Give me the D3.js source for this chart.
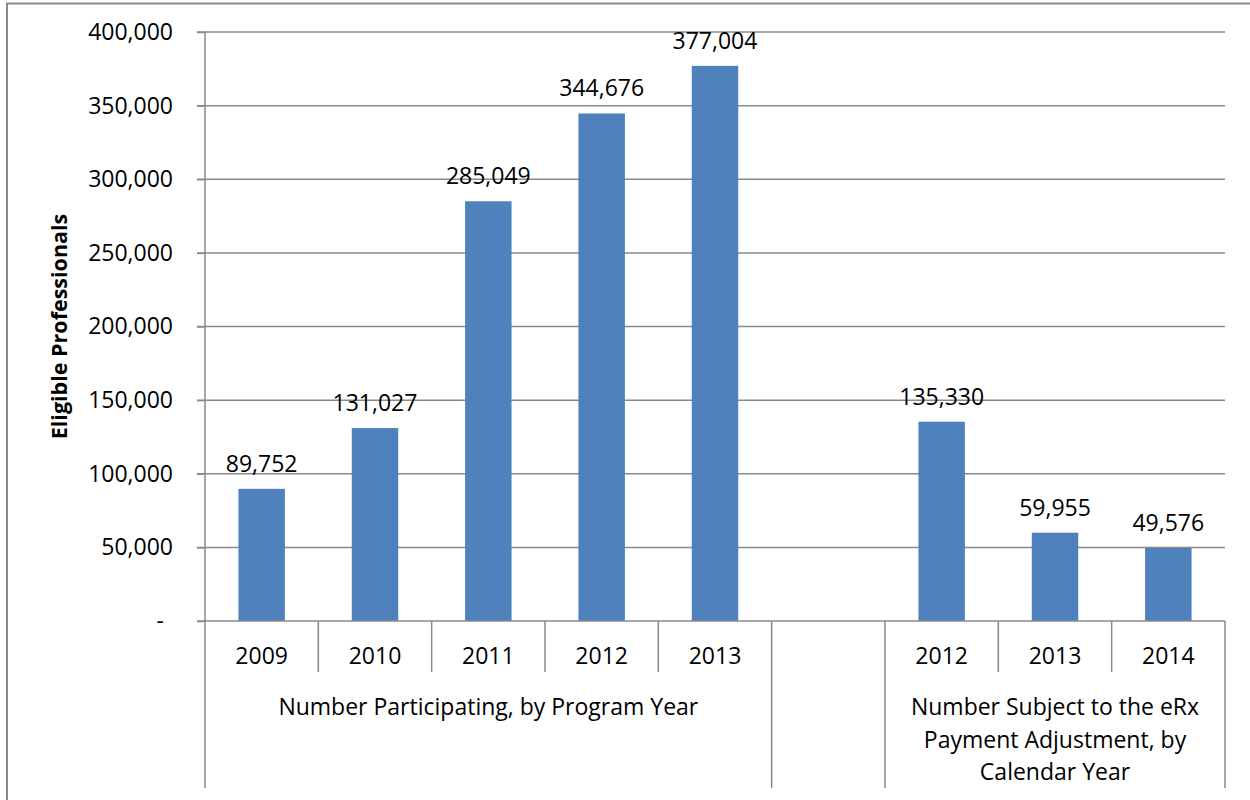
<!DOCTYPE html>
<html>
<head>
<meta charset="utf-8">
<script src="https://cdn.jsdelivr.net/npm/d3@7"></script>
<style>
  html, body { margin: 0; padding: 0; background: #fff; }
  svg { display: block; }
  text { font-family: "Open Sans", "Noto Sans", sans-serif; fill: #000; }
</style>
</head>
<body>
<svg id="chart" width="1250" height="800"></svg>
<script>
// Eligible professionals: participation by program year, and payment adjustment by calendar year
const participatingYears = ["2009", "2010", "2011", "2012", "2013"];
const participatingValues = [89752, 131027, 285049, 344676, 377004];
const adjustmentYears = ["2012", "2013", "2014"];
const adjustmentValues = [135330, 59955, 49576];
const groupLabels = [
  ["Number Participating, by Program Year"],
  [],
  ["Number Subject to the eRx", "Payment Adjustment, by", "Calendar Year"]
];
const yTickValues = [0, 50000, 100000, 150000, 200000, 250000, 300000, 350000, 400000];
const yTitle = "Eligible Professionals";

(function draw() {
  // Flatten into slots: first group, a blank spacer slot, second group
  const groups = [
    { years: participatingYears, values: participatingValues, label: groupLabels[0] },
    { years: [""], values: [null], label: groupLabels[1] },
    { years: adjustmentYears, values: adjustmentValues, label: groupLabels[2] }
  ];
  const slots = [];
  groups.forEach((g, gi) => g.years.forEach((yr, i) =>
    slots.push({ key: gi + "-" + i, year: yr, value: g.values[i], group: gi })));

  const svg = d3.select("#chart");
  const plotLeft = 205, plotRight = 1225, plotTop = 32, plotBottom = 621;
  const gridColor = "#8a8a8a";
  const barColor = "#4f81bd";
  const fontSize = 23;

  const x = d3.scaleBand().domain(slots.map(s => s.key)).range([plotLeft, plotRight]).padding(0);
  const y = d3.scaleLinear().domain([0, 400000]).range([plotBottom, plotTop]);
  const barWidth = x.bandwidth() * 0.41;
  const fmt = d3.format(",");

  // Outer frame
  svg.append("path")
    .attr("d", "M7,800 L7,3.5 L1250,3.5")
    .attr("fill", "none").attr("stroke", gridColor).attr("stroke-width", 2);

  // Gridlines
  svg.append("g").selectAll("line").data(yTickValues.filter(v => v > 0)).join("line")
    .attr("x1", plotLeft - 8).attr("x2", plotRight)
    .attr("y1", d => y(d)).attr("y2", d => y(d))
    .attr("stroke", gridColor).attr("stroke-width", 1.5);

  // Y axis
  const yAxis = d3.axisLeft(y).tickValues(yTickValues)
    .tickSize(8).tickPadding(24)
    .tickFormat(d => d === 0 ? "-" : fmt(d));
  const yg = svg.append("g").attr("transform", `translate(${plotLeft},0)`).call(yAxis);
  yg.select(".domain").remove();
  yg.selectAll(".tick line").attr("stroke", gridColor).attr("stroke-width", 1.5);
  yg.selectAll(".tick text")
    .attr("font-size", fontSize).attr("fill", "#000")
    .style("font-family", '"Open Sans", sans-serif')
    .attr("dx", d => d === 0 ? -9 : 0);

  // Vertical axis line, continuing down through the category area
  svg.append("line")
    .attr("x1", plotLeft).attr("x2", plotLeft).attr("y1", plotTop).attr("y2", 788)
    .attr("stroke", gridColor).attr("stroke-width", 1.5);

  // Bars
  svg.append("g").selectAll("rect").data(slots.filter(s => s.value != null)).join("rect")
    .attr("x", d => x(d.key) + (x.bandwidth() - barWidth) / 2)
    .attr("width", barWidth)
    .attr("y", d => y(d.value))
    .attr("height", d => y(0) - y(d.value))
    .attr("fill", barColor);

  // Value labels
  svg.append("g").selectAll("text").data(slots.filter(s => s.value != null)).join("text")
    .attr("x", d => x(d.key) + x.bandwidth() / 2)
    .attr("y", d => y(d.value) - 17)
    .attr("text-anchor", "middle")
    .attr("font-size", fontSize)
    .text(d => fmt(d.value));

  // Category axis: baseline, slot dividers and group dividers
  svg.append("line")
    .attr("x1", plotLeft - 8).attr("x2", plotRight).attr("y1", plotBottom).attr("y2", plotBottom)
    .attr("stroke", gridColor).attr("stroke-width", 1.5);

  const boundaries = [];
  let idx = 0;
  groups.forEach((g, gi) => {
    if (gi > 0) boundaries.push({ i: idx, major: true });
    g.years.forEach((_, i) => { if (i > 0) boundaries.push({ i: idx + i, major: false }); });
    idx += g.years.length;
  });
  boundaries.push({ i: slots.length, major: true });

  const edgeX = i => i < slots.length ? x(slots[i].key) : plotRight;
  svg.append("g").selectAll("line").data(boundaries).join("line")
    .attr("x1", d => edgeX(d.i))
    .attr("x2", d => edgeX(d.i))
    .attr("y1", plotBottom)
    .attr("y2", d => d.major ? 788 : 672)
    .attr("stroke", gridColor).attr("stroke-width", 1.5);

  // Year labels
  svg.append("g").selectAll("text").data(slots).join("text")
    .attr("x", d => x(d.key) + x.bandwidth() / 2)
    .attr("y", 664)
    .attr("text-anchor", "middle")
    .attr("font-size", fontSize)
    .text(d => d.year);

  // Group labels
  idx = 0;
  groups.forEach(g => {
    const first = slots[idx], last = slots[idx + g.years.length - 1];
    const cx = (x(first.key) + x(last.key) + x.bandwidth()) / 2;
    svg.append("text")
      .attr("text-anchor", "middle")
      .attr("font-size", fontSize)
      .selectAll("tspan").data(g.label).join("tspan")
      .attr("x", cx)
      .attr("y", (d, i) => 715 + i * 32.5)
      .text(d => d);
    idx += g.years.length;
  });

  // Y axis title
  svg.append("text")
    .attr("transform", `translate(67,${(plotTop + plotBottom) / 2}) rotate(-90)`)
    .attr("text-anchor", "middle")
    .attr("font-size", 21.5)
    .attr("font-weight", "bold")
    .text(yTitle);
})();
</script>
</body>
</html>
